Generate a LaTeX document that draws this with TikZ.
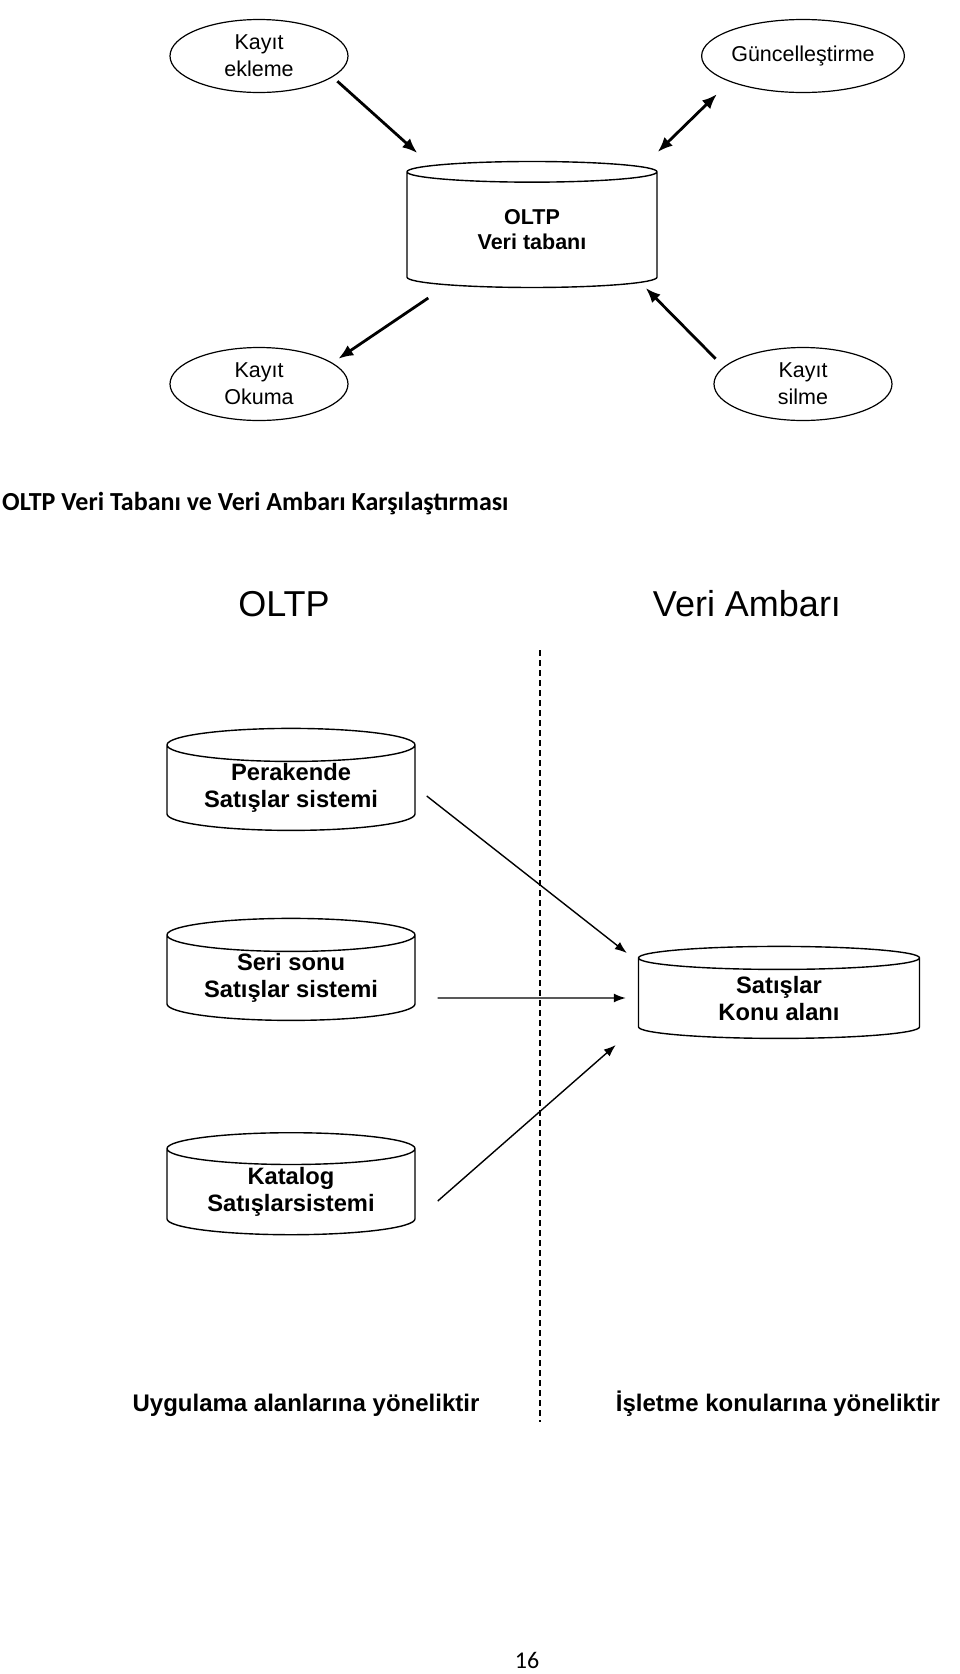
\documentclass[tikz,border=0pt]{standalone}
\usepackage{fontspec}
\setmainfont{Liberation Sans}
\newfontfamily\calibri{Carlito}
\usetikzlibrary{positioning,shapes.geometric,arrows.meta,calc}

\begin{document}
\begin{tikzpicture}[x=1pt,y=-1pt,
    islem/.style={draw,ellipse,line width=1.2pt,minimum width=178pt,minimum height=73pt,
        inner sep=0pt,align=center,font=\fontsize{21.5}{27}\selectfont},
    vt/.style={draw,cylinder,shape border rotate=90,aspect=0.19,line width=1.4pt,
        align=center,inner sep=0pt},
    kaynak/.style={vt,minimum width=248pt,minimum height=102pt,
        font=\bfseries\fontsize{23.7}{27}\selectfont},
    kalin/.style={->,>={Latex[length=15pt,width=12pt]},line width=2.8pt},
    ince/.style={->,>={Latex[length=12pt,width=9pt]},line width=1.4pt}]
    \useasboundingbox (0,0) rectangle (960,1674);

    % ust kisim: OLTP veri tabani islemleri
    \node[islem] (ekle) at (259,56) {Kayıt\\ekleme};
    \node[islem] (gunc) at (803,56) {Güncelleştirme};
    \node[islem] (oku) at (259,384) {Kayıt\\Okuma};
    \node[islem] (sil) at (803,384) {Kayıt\\silme};
    \node[vt,minimum width=250pt,minimum height=126pt,
        font=\bfseries\fontsize{21.5}{25}\selectfont] (oltp) at (532,230) {OLTP\\Veri tabanı};

    \draw[kalin] ($(ekle.south east)+(15,-1)$) -- ($(oltp.west)+(11,-77)$);
    \draw[kalin,<->] ($(gunc.south west)+(-14,12)$) -- ($(oltp.east)+(0,-78)$);
    \draw[kalin] ($(oltp.west)+(22,68)$) -- ($(oku.north east)+(16,1)$);
    \draw[kalin] ($(sil.north west)+(-24,1)$) -- ($(oltp.east)+(-12,58)$);

    \node[anchor=base west,inner sep=0pt,font=\calibri\bfseries\fontsize{26}{30}\selectfont]
        (baslik) at (2,510) {OLTP Veri Tabanı ve Veri Ambarı Karşılaştırması};

    % alt kisim: karsilastirma
    \node[anchor=base,inner sep=0pt,font=\fontsize{36}{40}\selectfont] (solbas) at (284,616) {OLTP};
    \node[anchor=base,inner sep=0pt,font=\fontsize{36}{40}\selectfont] (sagbas) at (747,616) {Veri Ambarı};
    \draw[dash pattern=on 6pt off 4pt,line width=1.3pt] (540,650) -- (540,1422);

    \node[kaynak] (pera) at (291,788) {Perakende\\Satışlar sistemi};
    \node[kaynak] (seri) at (291,978) {Seri sonu\\Satışlar sistemi};
    \node[kaynak] (kat) at (291,1192) {Katalog\\Satışlarsistemi};
    \node[vt,minimum width=281pt,minimum height=92pt,
        font=\bfseries\fontsize{23.7}{27}\selectfont] (sat) at (779,998.5) {Satışlar\\Konu alanı};

    \draw[ince] ($(pera.east)+(11,8)$) -- ($(sat.west)+(-11,-45.5)$);
    \draw[ince] ($(seri.east)+(22,20)$) -- ($(sat.west)+(-12,-0.5)$);
    \draw[ince] ($(kat.east)+(22,9)$) -- ($(sat.west)+(-22,46.5)$);

    \node[anchor=base,inner sep=0pt,font=\bfseries\fontsize{24}{28}\selectfont]
        (uyg) at (306,1411) {Uygulama alanlarına yöneliktir};
    \node[anchor=base,inner sep=0pt,font=\bfseries\fontsize{24}{28}\selectfont]
        (isl) at (778,1411) {İşletme konularına yöneliktir};

    \node[anchor=base,inner sep=0pt,font=\calibri\fontsize{24}{28}\selectfont] (sayfa) at (527,1668) {16};
\end{tikzpicture}
\end{document}
